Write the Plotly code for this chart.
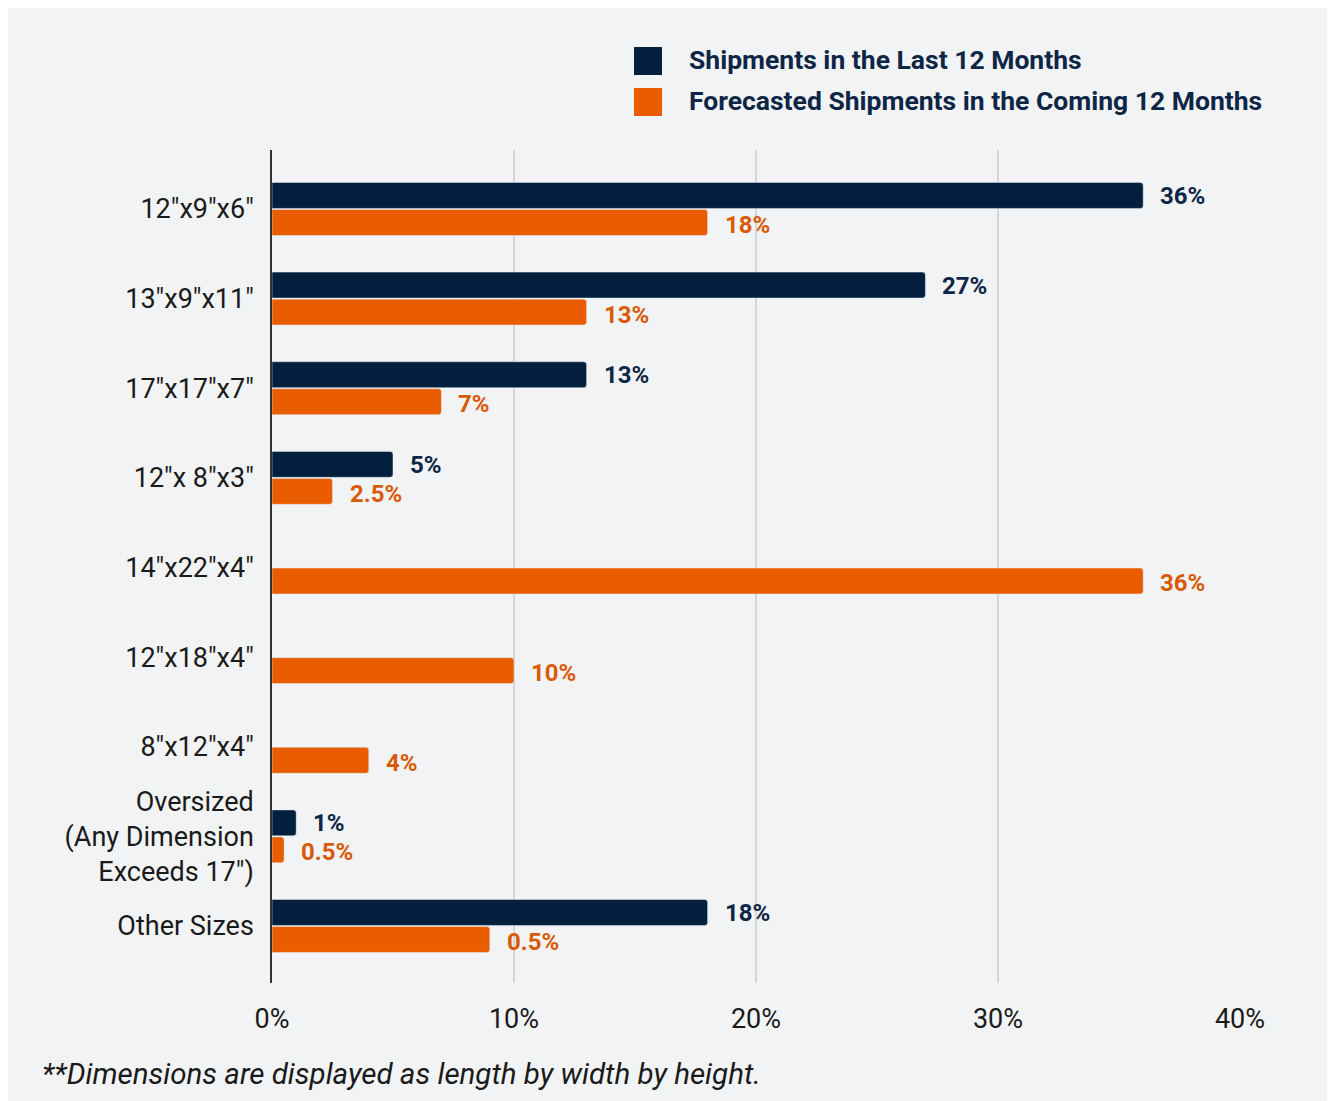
import plotly.graph_objects as go

categories = ['12"x9"x6"', '13"x9"x11"', '17"x17"x7"', '12"x 8"x3"', '14"x22"x4"',
              '12"x18"x4"', '8"x12"x4"', 'Oversized<br>(Any Dimension<br>Exceeds 17")', 'Other Sizes']
last_12 = [36, 27, 13, 5, None, None, None, 1, 18]
last_12_labels = ["36%", "27%", "13%", "5%", None, None, None, "1%", "18%"]
coming_12 = [18, 13, 7, 2.5, 36, 10, 4, 0.5, 9]
coming_12_labels = ["18%", "13%", "7%", "2.5%", "36%", "10%", "4%", "0.5%", "0.5%"]
x_ticks = [0, 10, 20, 30, 40]
x_tick_labels = ["0%", "10%", "20%", "30%", "40%"]
series_names = ["Shipments in the Last 12 Months", "Forecasted Shipments in the Coming 12 Months"]

NAVY = "#021f3e"
ORANGE = "#e95c00"
NAVY_TXT = "#0e2646"
ORANGE_TXT = "#d95a06"
BG = "#f2f3f5"
FONT = "Roboto"

# figure sits at page offset (8, 8)
OFF = 8
W, H = 1326, 1093
ML, MR, MT, MB = 264, 94, 142, 118
pw, ph = W - ML - MR, H - MT - MB

def px(x):  # page pixel -> paper
    return (x - OFF - ML) / pw

def py(y):
    return (H - MB - (y - OFF)) / ph

fig = go.Figure()
fig.add_trace(go.Bar(y=categories, x=last_12, orientation="h", name=series_names[0],
                     marker=dict(color=NAVY, cornerradius=3), showlegend=False))
fig.add_trace(go.Bar(y=categories, x=coming_12, orientation="h", name=series_names[1],
                     marker=dict(color=ORANGE, cornerradius=3), showlegend=False))

annotations = []
for cat, v, lab in zip(categories, last_12, last_12_labels):
    if v is not None:
        annotations.append(dict(x=v, y=cat, text=lab, showarrow=False, xanchor="left",
                                xshift=15, yshift=13, font=dict(family=FONT, size=24, color=NAVY_TXT, weight="bold")))
for cat, v, lab in zip(categories, coming_12, coming_12_labels):
    annotations.append(dict(x=v, y=cat, text=lab, showarrow=False, xanchor="left",
                            xshift=15, yshift=-16, font=dict(family=FONT, size=24, color=ORANGE_TXT, weight="bold")))

# legend (manual)
shapes = [
    dict(type="rect", xref="paper", yref="paper", x0=px(634), x1=px(662), y0=py(75), y1=py(47),
         fillcolor=NAVY, line=dict(width=0)),
    dict(type="rect", xref="paper", yref="paper", x0=px(634), x1=px(662), y0=py(116), y1=py(88),
         fillcolor=ORANGE, line=dict(width=0)),
]
annotations.append(dict(xref="paper", yref="paper", x=px(687), y=py(60), text=series_names[0],
                        showarrow=False, xanchor="left", yanchor="middle",
                        font=dict(family=FONT, size=26.5, color=NAVY_TXT, weight="bold")))
annotations.append(dict(xref="paper", yref="paper", x=px(687), y=py(101), text=series_names[1],
                        showarrow=False, xanchor="left", yanchor="middle",
                        font=dict(family=FONT, size=26.5, color=NAVY_TXT, weight="bold")))
annotations.append(dict(xref="paper", yref="paper", x=px(40), y=py(1074),
                        text="<i>**Dimensions are displayed as length by width by height.</i>",
                        showarrow=False, xanchor="left", yanchor="middle",
                        font=dict(family=FONT, size=29.5, color="#1a1a1a")))

fig.update_layout(
    width=W, height=H,
    margin=dict(l=ML, r=MR, t=MT, b=MB),
    paper_bgcolor=BG, plot_bgcolor=BG,
    barmode="group", bargap=0.397, bargroupgap=0.04,
    shapes=shapes, annotations=annotations,
    font=dict(family=FONT, color="#1a1a1a"),
)
fig.update_xaxes(range=[0, 40], tickvals=x_ticks, ticktext=x_tick_labels,
                 showgrid=True, gridcolor="#d6d6d6", gridwidth=1.5, zeroline=False,
                 showline=False, ticks="", ticklabelstandoff=17,
                 tickfont=dict(family=FONT, size=27, color="#1a1a1a"))
fig.update_yaxes(range=[8.636, -0.658], type="category", showgrid=False, zeroline=False,
                 showline=True, linecolor="#333333", linewidth=1.5, ticks="",
                 ticklabelstandoff=11, tickfont=dict(family=FONT, size=27, color="#1a1a1a"))

fig.write_html("out.html")
